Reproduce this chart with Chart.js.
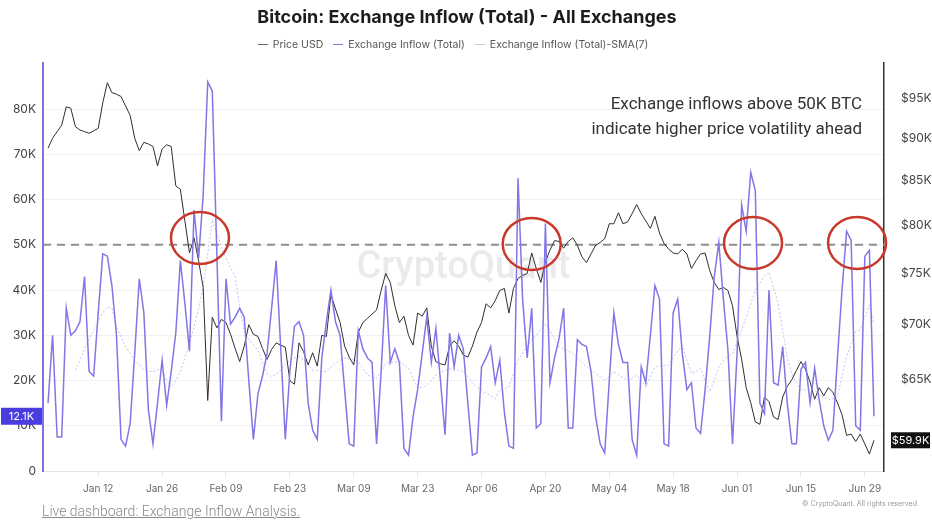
<!DOCTYPE html>
<html>
<head>
<meta charset="utf-8">
<title>Bitcoin: Exchange Inflow (Total) - All Exchanges</title>
<script src="https://cdn.jsdelivr.net/npm/chart.js@4.4.1/dist/chart.umd.min.js"></script>
<style>
  html, body { margin: 0; padding: 0; background: #fff; }
  #wrap { position: relative; width: 932px; height: 520px; font-family: Inter, "Noto Sans", sans-serif; }
  #chart { position: absolute; left: 0; top: 0; }
  #title { position: absolute; left: 0; top: 6px; width: 934px; text-align: center;
           font-size: 18px; font-weight: 700; color: #1c1c1c; }
  #legend { position: absolute; left: 0; top: 38px; width: 906px; display: flex; justify-content: center;
            gap: 10px; font-size: 10.5px; color: #555; }
  #legend span.item { display: flex; align-items: center; }
  #legend i { display: inline-block; width: 10px; height: 1.5px; margin-right: 5px; }
  #footer { position: absolute; left: 42px; top: 503px; font-family: Roboto, sans-serif; font-weight: 300;
            font-size: 14px; color: #8a8a8a; text-decoration: underline; }
  #copy { position: absolute; right: 15px; top: 499px; font-size: 7px; color: #999; white-space: nowrap; }
</style>
</head>
<body>
<div id="wrap">
  <canvas id="chart" width="932" height="520"></canvas>
  <div id="title">Bitcoin: Exchange Inflow (Total) - All Exchanges</div>
  <div id="legend">
    <span class="item"><i style="background:#666"></i>Price USD</span>
    <span class="item"><i style="background:#8176e6"></i>Exchange Inflow (Total)</span>
    <span class="item"><i style="background:#cbc6f2"></i>Exchange Inflow (Total)-SMA(7)</span>
  </div>
  <div id="footer">Live dashboard: Exchange Inflow Analysis.</div>
  <div id="copy">© CryptoQuant. All rights reserved</div>
</div>
<script>
// Daily values from Jan 01 (day 0) to Jul 01 (day 181), in thousands
const inflowK = [
  15, 30, 7.5, 7.5, 36, 30, 31, 33, 43, 22,
  21, 35, 48, 47.5, 41, 30, 7, 5.5, 10.5, 26,
  42.5, 35, 13.5, 6, 15, 24.5, 14.5, 22, 30.5, 46.5,
  37, 26.5, 57.7, 47, 61, 86, 84, 48, 11, 42.5,
  32.5, 34, 36, 34, 20, 7, 17, 21, 26, 36,
  46.5, 27, 7, 22, 32, 33, 30, 15, 9, 7,
  25, 33, 40, 33, 30, 18, 6, 5.5, 31, 27,
  25, 24, 6, 22, 41, 24, 27, 24, 5, 3.5,
  12, 18, 26, 34, 24, 31.5, 20, 8, 30.5, 23,
  30, 27, 15, 3.5, 4, 23, 25, 27.5, 19.5, 24.5,
  13, 5.5, 5, 64.7, 38, 25, 36, 9.5, 10.5, 54.7,
  19.5, 25, 29.3, 36, 9.5, 9.5, 29, 28, 27.5, 22,
  12, 6, 4, 20, 35, 28, 24, 24, 7, 3.5,
  23, 19.5, 30, 41, 38, 6, 5.5, 35, 38, 26,
  18, 19.5, 9.5, 8.3, 18, 29.7, 43, 50.5, 38, 26.7,
  6, 26, 58.8, 53, 66, 62, 15, 12.7, 40, 19.5,
  19, 27.5, 15, 6, 6, 22.5, 24, 15, 22.7, 15.7,
  10, 6.8, 9, 25, 40, 53, 51, 10, 9, 47.5,
  48.8, 12.1
];

const priceK = [
  88.8, 90.0, 90.8, 91.6, 93.9, 93.7, 91.4, 91.0, 90.8, 90.6,
  90.9, 91.2, 94.4, 97.0, 95.7, 95.5, 95.2, 94.0, 92.8, 90.0,
  88.5, 89.5, 89.3, 89.0, 86.7, 88.7, 89.2, 89.0, 84.4, 84.0,
  80.5, 77.1, 78.7, 76.3, 73.6, 63.2, 70.7, 69.7, 70.5, 70.2,
  69.1, 67.8, 66.6, 68.0, 70.0, 69.1, 68.9, 67.8, 66.8, 67.7,
  68.3, 68.1, 67.9, 64.9, 64.6, 68.3, 67.5, 66.3, 67.4, 66.2,
  69.0, 68.9, 72.9, 71.5, 70.2, 68.0, 67.0, 66.3, 69.3, 70.2,
  70.6, 71.0, 71.4, 73.3, 75.0, 74.1, 71.8, 70.2, 70.8, 69.0,
  68.1, 71.1, 70.8, 71.6, 68.0, 66.6, 66.4, 66.3, 68.0, 68.5,
  68.0, 67.2, 67.0, 68.0, 69.3, 70.2, 72.0, 71.6, 72.3, 73.3,
  73.5, 71.1, 73.5, 74.5, 74.8, 75.0, 77.1, 75.5, 74.1, 76.2,
  77.4, 78.4, 78.3, 77.6, 78.3, 78.7, 77.9, 76.7, 76.1, 77.0,
  77.9, 78.2, 78.6, 80.2, 80.2, 81.4, 80.2, 80.4, 81.3, 82.3,
  81.3, 80.5, 79.7, 81.0, 79.2, 78.1, 77.5, 77.1, 77.0, 77.5,
  77.0, 75.5, 76.3, 77.0, 77.1, 75.3, 74.1, 73.4, 73.6, 73.3,
  71.8, 68.9, 66.8, 64.3, 63.0, 61.4, 61.2, 63.5, 63.1, 61.8,
  61.6, 63.5, 64.4, 65.0, 65.8, 66.6, 65.9, 64.8, 63.3, 64.3,
  63.6, 64.3, 63.9, 63.0, 62.0, 60.3, 60.4, 59.8, 60.4, 59.6,
  58.8, 59.9
];

const smaK = [
  null, null, null, null, null, null, 22.3, 24.5, 27, 29.3,
  31, 33, 35, 36.3, 36, 32, 29.5, 27.5, 26, 24.5,
  23.5, 22.5, 22, 22, 22.3, 22.7, 20, 18.6, 20, 22,
  25, 28.2, 32, 36, 40.7, 48, 55.5, 52.5, 49.6, 47,
  45, 43, 36.3, 31, 29, 28, 26.7, 24, 21.5, 20.8,
  21.5, 22.3, 23.5, 24.5, 25, 25.3, 24.5, 23.5, 22.3, 22.2,
  22, 22, 23, 23.8, 24.5, 24.9, 24.8, 24.5, 24.2, 22.7,
  21.2, 20.8, 20.5, 22, 23.8, 24, 24.1, 24.2, 23.5, 22.7,
  20.5, 18.3, 18.5, 19, 20, 21.2, 21.8, 22.3, 22.5, 22.7,
  22.2, 22, 21, 19.4, 18.6, 17.9, 17.2, 16.6, 16, 17.9,
  18.2, 18.6, 21.5, 24.5, 26, 27.5, 29, 30, 31.3, 32.6,
  31, 29.3, 27.5, 27, 26.5, 26, 25, 24, 23, 22.3,
  21.5, 20.8, 20, 21, 22, 21.3, 20.7, 20, 20.5, 21.2,
  20, 18.6, 20.8, 23, 23.2, 23.3, 23.4, 25, 26.5, 27.8,
  24.5, 21.6, 22, 22.7, 20, 17.5, 20, 23, 24.5, 25.3,
  26, 28.5, 31.2, 34, 37, 40, 41.5, 43, 44, 40.5,
  37, 31, 25, 21.6, 19.5, 18, 17.9, 17.9, 17.9, 17,
  16.3, 15.7, 16, 16.4, 21, 25.3, 28, 30.8, 31.2, 34,
  36.7, 32.6
];

const tickLabels = ['Jan 12', 'Jan 26', 'Feb 09', 'Feb 23', 'Mar 09', 'Mar 23', 'Apr 06',
                    'Apr 20', 'May 04', 'May 18', 'Jun 01', 'Jun 15', 'Jun 29'];
const firstTickDay = 11;
const tickStepDays = 14;
const inflowTicks = [0, 10, 20, 30, 40, 50, 60, 70, 80];
const priceTicks = [65, 70, 75, 80, 85, 90, 95];

// Annotation: 50K threshold and the circled crossings
const thresholdK = 50;
const circleDays = [33.3, 106, 154.5, 177.3];
const circleLevels = [51.5, 50.2, 50.4, 50.4];
const noteLines = ['Exchange inflows above 50K BTC', 'indicate higher price volatility ahead'];

const colors = {
    inflow: '#8176e6',
    price: '#2e2e2e',
    sma: 'rgba(150, 140, 230, 0.55)',
    leftAxis: '#7d72e6',
    badge: '#4a3de0',
    circle: '#c8392b'
};

function toPoints(arr) {
    return arr.map((v, i) => ({ x: i, y: v }));
}

const overlay = {
    id: 'overlay',
    beforeDatasetsDraw(chart) {
        const { ctx, chartArea: a, scales } = chart;
        ctx.save();
        // watermark
        ctx.font = '500 38px Roboto, sans-serif';
        ctx.fillStyle = 'rgba(130, 130, 150, 0.17)';
        ctx.textAlign = 'center';
        ctx.textBaseline = 'middle';
        ctx.fillText('CryptoQuant', (a.left + a.right) / 2, (a.top + a.bottom) / 2 + 1);
        // threshold line
        const y = scales.y.getPixelForValue(thresholdK);
        ctx.strokeStyle = '#8f8f8f';
        ctx.lineWidth = 2;
        ctx.setLineDash([8, 6]);
        ctx.beginPath();
        ctx.moveTo(a.left, y);
        ctx.lineTo(a.right, y);
        ctx.stroke();
        ctx.restore();
    },
    afterDatasetsDraw(chart) {
        const { ctx, chartArea: a, scales } = chart;
        ctx.save();
        ctx.strokeStyle = colors.circle;
        ctx.lineWidth = 2.5;
        circleDays.forEach((d, i) => {
            const cx = scales.x.getPixelForValue(d);
            const cy = scales.y.getPixelForValue(circleLevels[i]);
            ctx.beginPath();
            ctx.ellipse(cx, cy, 29, 26, 0, 0, Math.PI * 2);
            ctx.stroke();
        });
        ctx.font = '17px Roboto, sans-serif';
        ctx.fillStyle = '#333';
        ctx.textAlign = 'right';
        ctx.textBaseline = 'middle';
        ctx.fillText(noteLines[0], a.right - 22, a.top + 42);
        ctx.fillText(noteLines[1], a.right - 22, a.top + 67);
        ctx.restore();
    },
    afterDraw(chart) {
        const { ctx, scales } = chart;
        const lastInflow = inflowK[inflowK.length - 1];
        const lastPrice = priceK[priceK.length - 1];
        ctx.save();
        ctx.font = '11px Inter, sans-serif';
        ctx.textBaseline = 'middle';
        ctx.textAlign = 'center';
        // left badge
        let y = scales.y.getPixelForValue(lastInflow);
        ctx.fillStyle = colors.badge;
        ctx.fillRect(1, y - 8.5, 41, 17);
        ctx.fillStyle = '#fff';
        ctx.fillText(lastInflow.toFixed(1) + 'K', 21.5, y + 0.5);
        // right badge
        y = scales.y1.getPixelForValue(lastPrice);
        ctx.fillStyle = '#111';
        ctx.fillRect(891, y - 8, 39, 16);
        ctx.fillStyle = '#fff';
        ctx.fillText('$' + lastPrice.toFixed(1) + 'K', 910.5, y + 0.5);
        ctx.restore();
    }
};

new Chart(document.getElementById('chart'), {
    type: 'line',
    data: {
        datasets: [
            {
                label: 'Exchange Inflow (Total)',
                data: toPoints(inflowK),
                yAxisID: 'y',
                borderColor: colors.inflow,
                borderWidth: 1.5,
                pointRadius: 0,
                tension: 0,
                order: 1
            },
            {
                label: 'Price USD',
                data: toPoints(priceK),
                yAxisID: 'y1',
                borderColor: colors.price,
                borderWidth: 1,
                pointRadius: 0,
                tension: 0,
                order: 2
            },
            {
                label: 'Exchange Inflow (Total)-SMA(7)',
                data: toPoints(smaK),
                yAxisID: 'y',
                borderColor: colors.sma,
                borderWidth: 1,
                borderDash: [2, 2],
                pointRadius: 0,
                tension: 0,
                order: 3
            }
        ]
    },
    options: {
        responsive: false,
        animation: false,
        layout: { padding: { top: 63, left: 0, right: 0, bottom: 0 } },
        plugins: {
            legend: { display: false },
            title: { display: false },
            tooltip: { enabled: false }
        },
        scales: {
            x: {
                type: 'linear',
                min: -1.1,
                max: 183.2,
                afterBuildTicks: s => {
                    s.ticks = tickLabels.map((l, i) => ({ value: firstTickDay + i * tickStepDays }));
                },
                afterFit: s => { s.height = 49; },
                ticks: {
                    autoSkip: false,
                    maxRotation: 0,
                    padding: 6,
                    color: '#666',
                    font: { size: 10, family: 'Inter' },
                    callback: (v, i) => tickLabels[i]
                },
                grid: { drawOnChartArea: false, tickLength: 6, color: '#e6e6e6' },
                border: { color: '#e3e3e3' }
            },
            y: {
                position: 'left',
                min: 0,
                max: 90.2,
                afterBuildTicks: s => { s.ticks = inflowTicks.map(v => ({ value: v })); },
                afterFit: s => { s.width = 43; },
                ticks: {
                    padding: 7,
                    color: '#444',
                    font: { size: 12, family: 'Inter' },
                    callback: v => (v === 0 ? '0' : v + 'K')
                },
                grid: { color: '#f1f1f1', drawTicks: false },
                border: { color: colors.leftAxis, width: 2 }
            },
            y1: {
                type: 'logarithmic',
                position: 'right',
                min: 57.47,
                max: 99.6,
                afterBuildTicks: s => { s.ticks = priceTicks.map(v => ({ value: v })); },
                afterFit: s => { s.width = 48; },
                ticks: {
                    padding: 9,
                    color: '#444',
                    font: { size: 12, family: 'Inter' },
                    callback: v => '$' + v + 'K'
                },
                grid: { display: false },
                border: { color: '#333', width: 1.5 }
            }
        }
    },
    plugins: [overlay]
});
</script>
</body>
</html>
